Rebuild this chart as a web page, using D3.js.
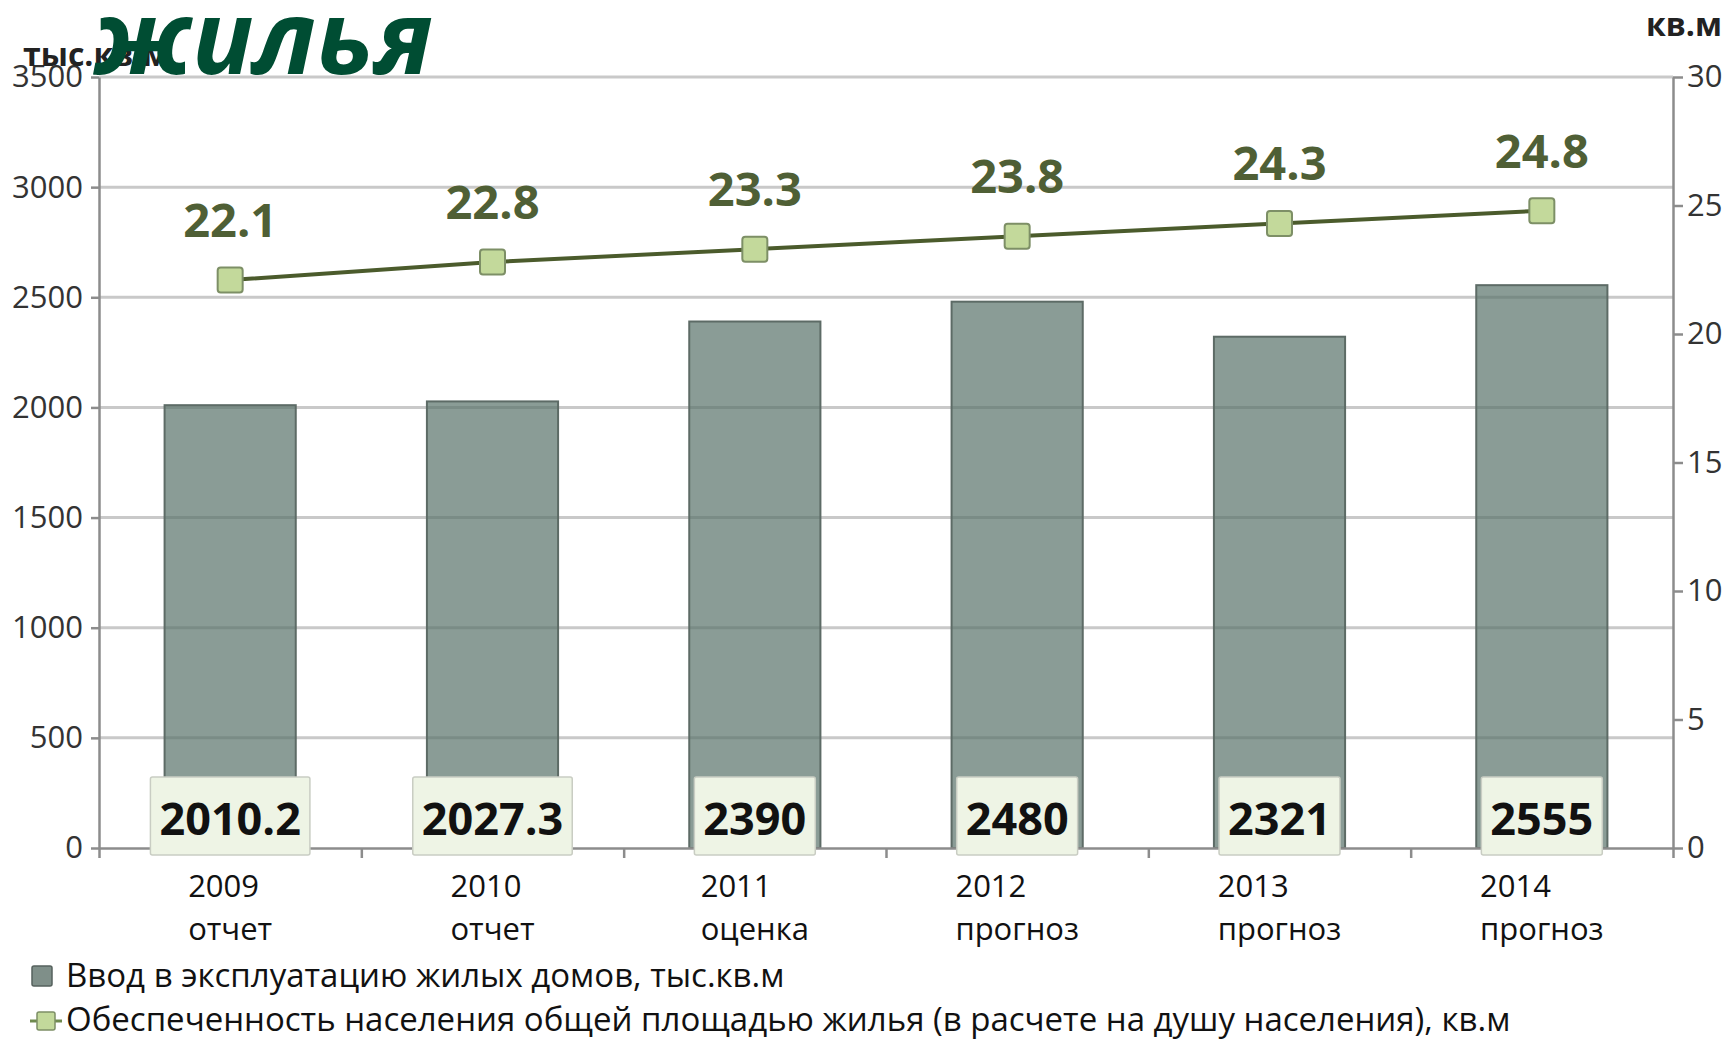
<!DOCTYPE html>
<html>
<head>
<meta charset="utf-8">
<script src="https://cdn.jsdelivr.net/npm/d3@7"></script>
<style>
  body { margin: 0; background: #fff; }
  text { font-family: "Open Sans", sans-serif; }
</style>
</head>
<body>
<div id="chart"></div>
<script>
// данные
const years = ['2009', '2010', '2011', '2012', '2013', '2014'];
const status = ['отчет', 'отчет', 'оценка', 'прогноз', 'прогноз', 'прогноз'];
const housing = [2010.2, 2027.3, 2390, 2480, 2321, 2555];
const perCapita = [22.1, 22.8, 23.3, 23.8, 24.3, 24.8];
const leftTicks = [0, 500, 1000, 1500, 2000, 2500, 3000, 3500];
const rightTicks = [0, 5, 10, 15, 20, 25, 30];
const legendLabels = [
  'Ввод в эксплуатацию жилых домов, тыс.кв.м',
  'Обеспеченность населения общей площадью жилья (в расчете на душу населения), кв.м'
];

const W = 1728, H = 1041;
const margin = {top: 77, right: 55, bottom: 193, left: 99};
const x0 = margin.left, x1 = W - margin.right, y0 = H - margin.bottom, y1 = margin.top;

const svg = d3.select('#chart').append('svg')
  .attr('width', W).attr('height', H);

const x = d3.scaleBand().domain(years).range([x0, x1]).paddingInner(0.5).paddingOuter(0.25);
const xb = d3.scaleLinear().domain([0, years.length]).range([x0, x1]);
const yL = d3.scaleLinear().domain([0, 3500]).range([y0, y1]);
const yR = d3.scaleLinear().domain([0, 30]).range([y0, y1]);

// сетка
svg.append('g').selectAll('line')
  .data(leftTicks.slice(1))
  .join('line')
  .attr('x1', x0).attr('x2', x1)
  .attr('y1', d => yL(d)).attr('y2', d => yL(d))
  .attr('stroke', '#c9c9c9').attr('stroke-width', 3);

// столбцы
svg.append('g').selectAll('rect')
  .data(housing)
  .join('rect')
  .attr('x', (d, i) => x(years[i]))
  .attr('y', d => yL(d))
  .attr('width', x.bandwidth())
  .attr('height', d => y0 - yL(d))
  .attr('fill', 'rgb(88,114,105)').attr('fill-opacity', 0.7)
  .attr('stroke', '#5d6b66').attr('stroke-width', 2);

// оси
const axL = svg.append('g')
  .attr('transform', 'translate(' + x0 + ',0)')
  .call(d3.axisLeft(yL).tickValues(leftTicks).tickFormat(d3.format('d'))
    .tickSize(8).tickPadding(8).tickSizeOuter(0));
const axR = svg.append('g')
  .attr('transform', 'translate(' + x1 + ',0)')
  .call(d3.axisRight(yR).tickValues(rightTicks).tickSize(10).tickPadding(4).tickSizeOuter(0));
const axB = svg.append('g')
  .attr('transform', 'translate(0,' + y0 + ')')
  .call(d3.axisBottom(xb).ticks(years.length).tickFormat('').tickSize(10).tickSizeOuter(0));

[axL, axR, axB].forEach(g => {
  g.select('.domain').attr('stroke', '#8c8c8c').attr('stroke-width', 2.5);
  g.selectAll('.tick line').attr('stroke', '#8c8c8c').attr('stroke-width', 2.5);
  g.selectAll('.tick text')
    .attr('font-family', '"Open Sans", sans-serif')
    .attr('font-size', 31).attr('fill', '#333');
});

// линия
const line = d3.line()
  .x((d, i) => x(years[i]) + x.bandwidth() / 2)
  .y(d => yR(d));

svg.append('path')
  .datum(perCapita)
  .attr('d', line)
  .attr('fill', 'none')
  .attr('stroke', '#4b5b2c').attr('stroke-width', 4);

svg.append('g').selectAll('rect')
  .data(perCapita)
  .join('rect')
  .attr('x', (d, i) => x(years[i]) + x.bandwidth() / 2 - 12.5)
  .attr('y', d => yR(d) - 12.5)
  .attr('width', 25).attr('height', 25).attr('rx', 3)
  .attr('fill', '#c3d99b').attr('stroke', '#7d8f66').attr('stroke-width', 2);

svg.append('g').selectAll('text')
  .data(perCapita)
  .join('text')
  .attr('x', (d, i) => x(years[i]) + x.bandwidth() / 2)
  .attr('y', d => yR(d) - 43)
  .attr('text-anchor', 'middle')
  .attr('font-size', 47).attr('font-weight', 700)
  .attr('fill', '#4f5f35')
  .text(d => d.toFixed(1));

// подписи значений столбцов
const lab = svg.append('g').selectAll('g')
  .data(housing)
  .join('g');

lab.append('rect').attr('class', 'box');
lab.append('text')
  .attr('x', (d, i) => x(years[i]) + x.bandwidth() / 2)
  .attr('y', y0 - 13)
  .attr('text-anchor', 'middle')
  .attr('font-size', 45).attr('font-weight', 700)
  .attr('fill', '#111')
  .text(d => String(d));

lab.each(function(d, i) {
  const g = d3.select(this);
  const tw = g.select('text').node().getComputedTextLength();
  const bw = tw + 18;
  g.select('rect.box')
    .attr('x', x(years[i]) + x.bandwidth() / 2 - bw / 2)
    .attr('y', y0 - 71)
    .attr('width', bw).attr('height', 78).attr('rx', 2)
    .attr('fill', '#eef4e5').attr('stroke', '#c9cdc3').attr('stroke-width', 1.5);
});

// подписи категорий
const cat = svg.append('g').selectAll('g')
  .data(years)
  .join('g');

cat.each(function(d, i) {
  const g = d3.select(this);
  const t1 = g.append('text').attr('y', y0 + 49).attr('font-size', 31).attr('fill', '#111').text(d);
  const t2 = g.append('text').attr('y', y0 + 92).attr('font-size', 31).attr('fill', '#111').text(status[i]);
  const mw = Math.max(t1.node().getComputedTextLength(), t2.node().getComputedTextLength());
  const sx = x(d) + x.bandwidth() / 2 - mw / 2;
  t1.attr('x', sx);
  t2.attr('x', sx);
});

// легенда
const leg = svg.append('g');
leg.append('rect')
  .attr('x', 32).attr('y', 966).attr('width', 20).attr('height', 20).attr('rx', 2)
  .attr('fill', '#7f8f89').attr('stroke', '#56615d').attr('stroke-width', 1.5);
leg.append('line')
  .attr('x1', 30).attr('x2', 62).attr('y1', 1021).attr('y2', 1021)
  .attr('stroke', '#6e8a4e').attr('stroke-width', 3);
leg.append('rect')
  .attr('x', 37).attr('y', 1012).attr('width', 18).attr('height', 18).attr('rx', 2)
  .attr('fill', '#c3d99b').attr('stroke', '#7d8f66').attr('stroke-width', 1.5);
leg.selectAll('text')
  .data(legendLabels)
  .join('text')
  .attr('x', 66)
  .attr('y', (d, i) => 987 + i * 44)
  .attr('font-size', 33).attr('fill', '#111')
  .text(d => d);

// единицы
svg.append('text')
  .attr('x', 23).attr('y', 66)
  .attr('font-size', 32).attr('font-weight', 700).attr('fill', '#222')
  .text('тыс.кв.м');
svg.append('text')
  .attr('x', 1722).attr('y', 36)
  .attr('text-anchor', 'end')
  .attr('font-size', 32).attr('font-weight', 700).attr('fill', '#222')
  .text('кв.м');

// заголовок
svg.append('text')
  .attr('x', 94).attr('y', 74)
  .attr('font-size', 102).attr('font-weight', 700).attr('font-style', 'italic')
  .attr('fill', '#004d33')
  .text('жилья');
</script>
</body>
</html>
